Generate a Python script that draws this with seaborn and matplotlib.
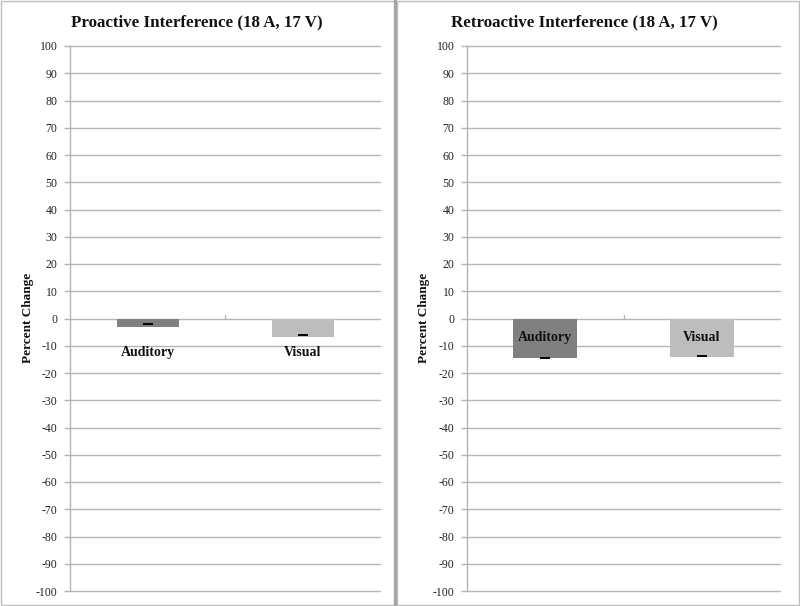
import matplotlib
matplotlib.use("Agg")
import matplotlib.pyplot as plt
import seaborn as sns
import pandas as pd
from matplotlib.patches import Rectangle
from matplotlib.lines import Line2D

# ---- data ----
categories = ["Auditory", "Visual"]
titles = ["Proactive Interference (18 A, 17 V)", "Retroactive Interference (18 A, 17 V)"]
proactive_values = [-3.0, -6.8]
proactive_err = [-2.0, -6.2]
retroactive_values = [-14.5, -14.2]
retroactive_err = [-14.6, -13.6]
yticks = list(range(-100, 101, 10))
ylabel = "Percent Change"
bar_colors = ["#808080", "#bdbdbd"]

sns.set_theme(style="white")
plt.rcParams["font.family"] = ["Liberation Serif", "DejaVu Serif"]

fig = plt.figure(figsize=(8, 6.06), dpi=100)
W, H = 800, 606

def fx(px):
    return px / W

def fy(py):
    return 1 - py / H

panels = [
    dict(values=proactive_values, err=proactive_err, title=titles[0],
         ax=(70, 380), title_x=197, label_y=-12.3, width=0.40, ylab_x=28),
    dict(values=retroactive_values, err=retroactive_err, title=titles[1],
         ax=(467, 780), title_x=584, label_y=-6.8, width=0.41, ylab_x=424),
]

grid_c = "#b4b4b4"
for p in panels:
    l, r = p["ax"]
    ax = fig.add_axes([fx(l), fy(591), fx(r - l), fy(46) - fy(591)])
    df = pd.DataFrame({"cat": categories, "val": p["values"]})
    sns.barplot(data=df, x="cat", y="val", hue="cat", palette=bar_colors,
                width=p["width"], legend=False, ax=ax, zorder=3,
                edgecolor="none", linewidth=0)
    ax.set_ylim(-100, 100)
    ax.set_xlim(-0.5, 1.5)
    ax.set_yticks(yticks)
    ax.set_yticklabels([str(t) for t in yticks], fontsize=8.5,
                       color="#222222")
    for t in yticks:
        ax.axhline(t, color=grid_c, lw=1.0, zorder=1, clip_on=False)
    for s in ["top", "right", "bottom"]:
        ax.spines[s].set_visible(False)
    ax.spines["left"].set_color(grid_c)
    ax.spines["left"].set_linewidth(1.0)
    ax.tick_params(axis="y", length=4, width=1, color=grid_c, pad=5, left=True)
    ax.set_xticks([])
    ax.set_xlabel("")
    ax.set_ylabel("")
    # small mid tick on the zero axis
    ax.plot([0.5, 0.5], [0, 1.2], color=grid_c, lw=1, zorder=2)
    # error marks
    ax.scatter(range(len(categories)), p["err"], marker="_", s=55, color="black",
               linewidths=1.4, zorder=4)
    # category labels
    for i, c in enumerate(categories):
        ax.text(i, p["label_y"], c, ha="center", va="center", fontsize=10,
                fontweight="bold", color="#111111", zorder=5)
    fig.text(fx(p["title_x"]), fy(22), p["title"], ha="center", va="center",
             fontsize=12.2, fontweight="bold", color="#111111")
    fig.text(fx(p["ylab_x"]), fy(318), ylabel, ha="center", va="center",
             rotation=90, fontsize=9.5, fontweight="bold", color="#111111")

# panel borders
border_c = "#bdbdbd"
fig.add_artist(Rectangle((fx(0.5), fy(605)), fx(393), fy(0.5) - fy(605),
                         transform=fig.transFigure, fill=False, ec=border_c, lw=1))
fig.add_artist(Rectangle((fx(396.5), fy(605)), fx(402.5), fy(0.5) - fy(605),
                         transform=fig.transFigure, fill=False, ec=border_c, lw=1))
fig.add_artist(Line2D([fx(395), fx(395)], [0, 1], transform=fig.transFigure,
                      color="#a6a6a6", lw=2.2))

fig.savefig("out.png", dpi=100)
